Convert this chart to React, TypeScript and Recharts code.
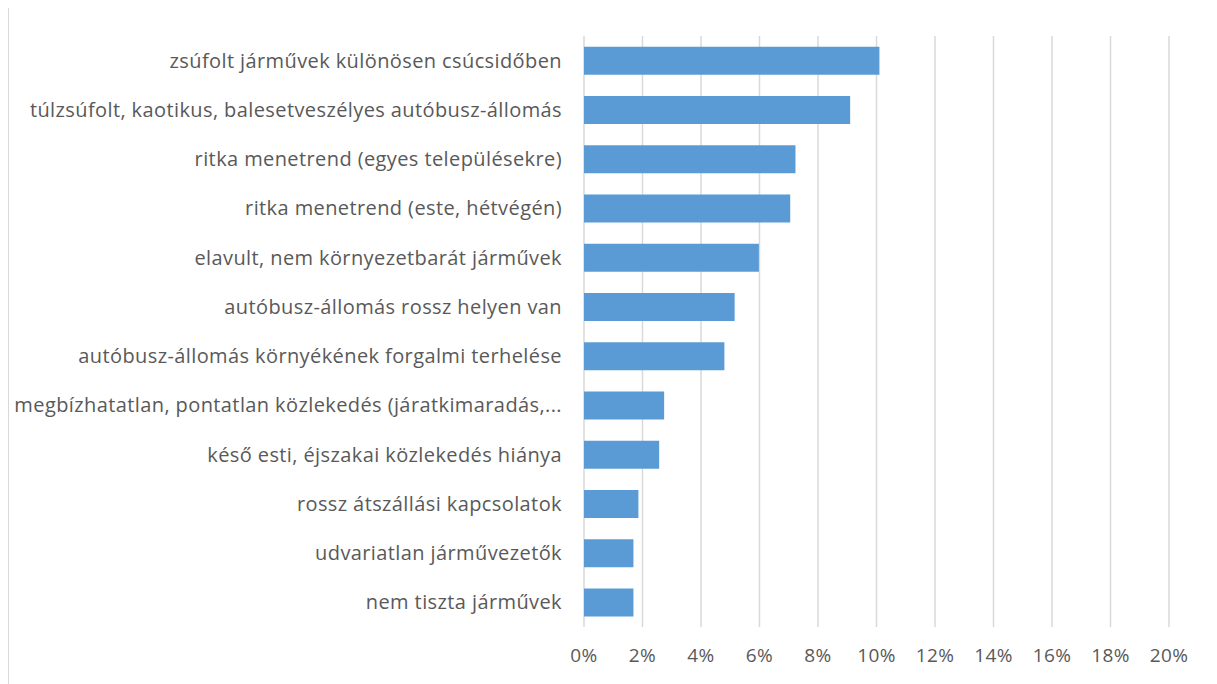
import { Bar, BarChart, CartesianGrid, XAxis, YAxis } from 'recharts'

// kategóriák felülről lefelé, ahogy a képen
const categories = [
  'zsúfolt járművek különösen csúcsidőben',
  'túlzsúfolt, kaotikus, balesetveszélyes autóbusz-állomás',
  'ritka menetrend (egyes  településekre)',
  'ritka menetrend (este, hétvégén)',
  'elavult, nem környezetbarát járművek',
  'autóbusz-állomás rossz helyen van',
  'autóbusz-állomás környékének forgalmi terhelése',
  'megbízhatatlan, pontatlan közlekedés (járatkimaradás,...',
  'késő esti, éjszakai közlekedés hiánya',
  'rossz átszállási kapcsolatok',
  'udvariatlan járművezetők',
  'nem tiszta járművek',
]

const shares = [0.101, 0.091, 0.0723, 0.0705, 0.0598, 0.0515, 0.048, 0.0274, 0.0257, 0.0186, 0.0169, 0.0169]

const xTicks = [0, 0.02, 0.04, 0.06, 0.08, 0.1, 0.12, 0.14, 0.16, 0.18, 0.2]

const data = categories.map((name, i) => ({ name, value: shares[i] }))

const font = '"Open Sans", sans-serif'
const textColor = '#595959'

export default function App() {
  return (
    <div
      style={{
        marginTop: -2,
        width: 1208,
        height: 677,
        borderTop: '1px solid #d9d9d9',
        borderLeft: '1px solid #d9d9d9',
        background: '#fff',
      }}
    >
      <BarChart
        width={1208}
        height={677}
        data={data}
        layout="vertical"
        barCategoryGap="22%"
        margin={{ top: 29, right: 48, bottom: 0, left: 0 }}
      >
        <CartesianGrid horizontal={false} stroke="#d9d9d9" strokeWidth={1.5} />
        <XAxis
          type="number"
          domain={[0, 0.2]}
          ticks={xTicks}
          interval={0}
          height={57}
          axisLine={false}
          tickLine={false}
          tickSize={0}
          tickMargin={22}
          tickFormatter={(v: number) => `${Math.round(v * 100)}%`}
          tick={{ fill: textColor, fontSize: 19, fontFamily: font, letterSpacing: 0.4 }}
        />
        <YAxis
          type="category"
          dataKey="name"
          width={575}
          interval={0}
          axisLine={false}
          tickLine={false}
          tickSize={0}
          tickMargin={22}
          tick={{ fill: textColor, fontSize: 20, fontFamily: font, letterSpacing: 0.4 }}
        />
        <Bar dataKey="value" fill="#5b9bd5" isAnimationActive={false} />
      </BarChart>
    </div>
  )
}
